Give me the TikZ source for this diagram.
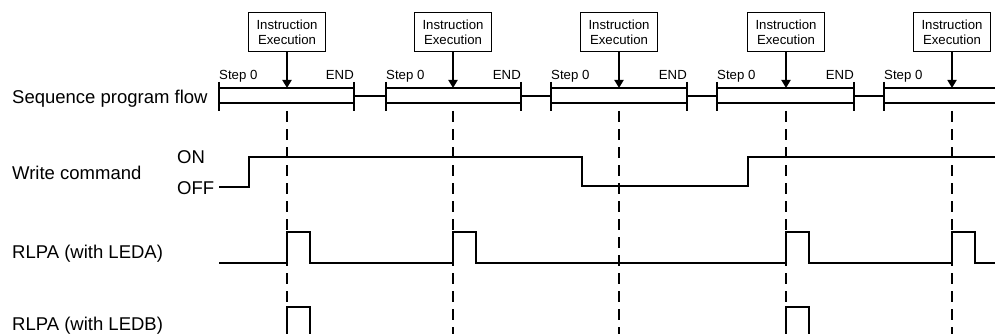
\documentclass[tikz,border=0pt]{standalone}
\usepackage{fontspec}
\setmainfont{Liberation Sans}
\usetikzlibrary{arrows.meta}
\begin{document}
\begin{tikzpicture}[x = 1pt, y = -1pt,
        signal/.style = {line width = 1.8pt},
        flowbar/.style = {line width = 2.8pt},
        guide/.style = {line width = 1.8pt, dash pattern = on 11pt off 7pt},
        small/.style = {font = \fontsize{13.2}{15}\selectfont, inner sep = 0pt},
        big/.style = {font = \fontsize{18.5}{20}\selectfont, inner sep = 0pt},
        execbox/.style = {small, draw, fill = white, line width = 1pt, minimum width = 77pt, minimum height = 39pt, align = center}]
        \useasboundingbox (0, 0) rectangle (995, 334);
        \node [big, anchor = base west] (flow) at (12, 104) {Sequence program flow};
        \node [big, anchor = base west] (write) at (12, 179) {Write command};
        \node [big, anchor = base west] (on) at (177, 163) {ON};
        \node [big, anchor = base west] (off) at (177, 194) {OFF};
        \node [big, anchor = base west] (leda) at (12, 258) {RLPA (with LEDA)};
        \node [big, anchor = base west] (ledb) at (12, 330) {RLPA (with LEDB)};
        % program scans
        \foreach \s/\e/\n [count = \i] in {219/354/386, 386/521/551, 551/687/717, 717/854/884} {
            \draw [flowbar] (\s, 88) -- (\e, 88) (\s, 103) -- (\e, 103) (\s, 82) -- (\s, 111) (\e, 82) -- (\e, 111);
            \draw [flowbar] (\e, 96) -- (\n, 96);
            \node [small, anchor = base west] (step\i) at (\s, 80) {Step 0};
            \node [small, anchor = base east] (end\i) at (\e, 80) {END};
        }
        \draw [flowbar] (884, 88) -- (995, 88) (884, 103) -- (995, 103) (884, 82) -- (884, 111);
        \node [small, anchor = base west] (step5) at (884, 80) {Step 0};
        % instruction execution
        \foreach \x [count = \i] in {287, 453, 619, 786, 952} {
            \node [execbox] (exec\i) at (\x, 32.5) {Instruction\\Execution};
            \coordinate (hit\i) at (\x, 88);
            \draw [signal, -{Triangle[length = 8pt, width = 9pt]}] (exec\i) -- (hit\i);
            \draw [guide] (\x, 111) -- (\x, 334);
        }
        % signals
        \draw [signal] (219, 187) -- (249, 187) -- (249, 157) -- (582, 157) -- (582, 186) -- (748, 186) -- (748, 157) -- (995, 157);
        \draw [signal] (219, 263) -- (287, 263) -- (287, 232) -- (310, 232) -- (310, 263) -- (453, 263) -- (453, 232) -- (476, 232) -- (476, 263)
            -- (786, 263) -- (786, 232) -- (809, 232) -- (809, 263) -- (952, 263) -- (952, 232) -- (975, 232) -- (975, 263) -- (995, 263);
        \draw [signal] (287, 334) -- (287, 307) -- (310, 307) -- (310, 334);
        \draw [signal] (786, 334) -- (786, 307) -- (809, 307) -- (809, 334);
\end{tikzpicture}
\end{document}
